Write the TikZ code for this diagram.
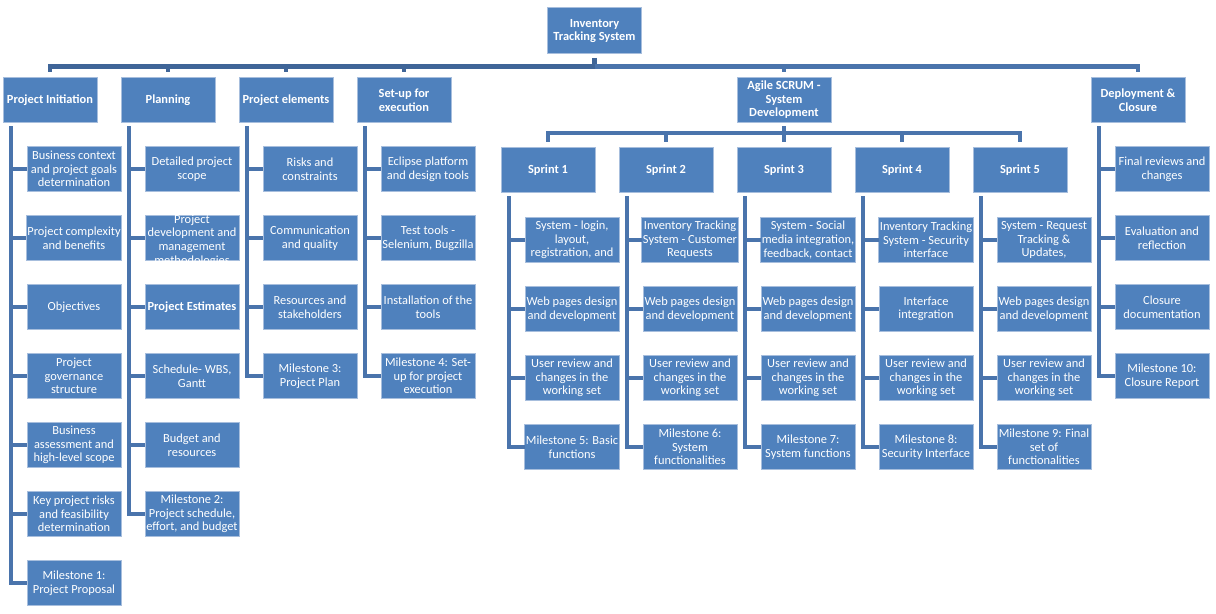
\documentclass[tikz,border=0pt]{standalone}
\usepackage{fontspec}
\setmainfont{Carlito}
\usepackage{tikz}
\usetikzlibrary{positioning}
\definecolor{boxblue}{HTML}{4F81BD}
\definecolor{boxedge}{HTML}{A7BEDD}
\definecolor{linkblue}{HTML}{4A74AC}
\definecolor{busblue}{HTML}{3F6598}
\tikzset{
    every picture/.style={line join=miter},
    wbsbox/.style={draw=boxedge,fill=boxblue,line width=0.5pt,text=white,
      minimum width=47pt,minimum height=22.5pt,inner sep=0.5pt,outer sep=0pt,
      align=center,font=\fontsize{6.2}{6.8}\selectfont},
    headbox/.style={wbsbox,font=\fontsize{6.2}{6.8}\selectfont\bfseries},
    busline/.style={draw=busblue,line width=2.2pt},
    sprintline/.style={draw=linkblue,line width=2pt},
    barline/.style={draw=linkblue,line width=2pt}
}

\begin{document}
\begin{tikzpicture}
    \useasboundingbox (0,0) rectangle (608pt,-307pt);
    % top level
    \node[headbox,minimum height=23pt] (root) at (297.25pt,-15.5pt) {Inventory\\Tracking System};
    \node[headbox] (init) at (25pt,-50pt) {Project Initiation};
    \node[headbox,right=12pt of init] (plan) {Planning};
    \node[headbox,right=12pt of plan] (elem) {Project elements};
    \node[headbox,right=12pt of elem] (setup) {Set-up for\\execution};
    \node[headbox,right=143pt of setup] (agile) {Agile SCRUM -\\System\\Development};
    \node[headbox,right=130pt of agile] (deploy) {Deployment \&\\Closure};
    \coordinate (bus) at ([yshift=-6.25pt]root.south);
    \draw[busline] ([yshift=-2pt]root.south) -- (bus) -| ([yshift=2.5pt]init.north);
    \draw[busline] (bus) -| ([yshift=2.5pt]plan.north);
    \draw[busline] (bus) -| ([yshift=2.5pt]elem.north);
    \draw[busline] (bus) -| ([yshift=2.5pt]setup.north);
    \draw[sprintline,line width=2.2pt] (bus) -| ([yshift=2.5pt]agile.north);
    \draw[sprintline,line width=2.2pt] (bus) -| ([yshift=2.5pt]deploy.north);

    % project initiation
    \node[wbsbox,below=12pt of init,xshift=12pt] (init1) {Business context\\and project goals\\determination};
    \node[wbsbox,below=12pt of init1] (init2) {Project complexity\\and benefits};
    \node[wbsbox,below=12pt of init2] (init3) {Objectives};
    \node[wbsbox,below=12pt of init3] (init4) {Project\\governance\\structure};
    \node[wbsbox,below=12pt of init4] (init5) {Business\\assessment and\\high-level scope};
    \node[wbsbox,below=12pt of init5] (init6) {Key project risks\\and feasibility\\determination};
    \node[wbsbox,below=12pt of init6] (init7) {Milestone 1:\\Project Proposal};
    \draw[barline] (init.south west) ++(4pt,-2pt) |- (init1.west);
    \draw[barline] (init.south west) ++(4pt,-2pt) |- (init2.west);
    \draw[barline] (init.south west) ++(4pt,-2pt) |- (init3.west);
    \draw[barline] (init.south west) ++(4pt,-2pt) |- (init4.west);
    \draw[barline] (init.south west) ++(4pt,-2pt) |- (init5.west);
    \draw[barline] (init.south west) ++(4pt,-2pt) |- (init6.west);
    \draw[barline] (init.south west) ++(4pt,-2pt) |- (init7.west);

    % planning
    \node[wbsbox,below=12pt of plan,xshift=12pt] (plan1) {Detailed project\\scope};
    \node[wbsbox,below=12pt of plan1] (plan2) {\smash{\raisebox{-3pt}{\begin{tabular}{@{}c@{}}Project\\development and\\management\\methodologies\end{tabular}}}};
    \node[headbox,below=12pt of plan2] (plan3) {Project Estimates};
    \node[wbsbox,below=12pt of plan3] (plan4) {Schedule- WBS,\\Gantt};
    \node[wbsbox,below=12pt of plan4] (plan5) {Budget and\\resources};
    \node[wbsbox,below=12pt of plan5] (plan6) {Milestone 2:\\Project schedule,\\effort, and budget};
    \draw[barline] (plan.south west) ++(4pt,-2pt) |- (plan1.west);
    \draw[barline] (plan.south west) ++(4pt,-2pt) |- (plan2.west);
    \draw[barline] (plan.south west) ++(4pt,-2pt) |- (plan3.west);
    \draw[barline] (plan.south west) ++(4pt,-2pt) |- (plan4.west);
    \draw[barline] (plan.south west) ++(4pt,-2pt) |- (plan5.west);
    \draw[barline] (plan.south west) ++(4pt,-2pt) |- (plan6.west);

    % project elements
    \node[wbsbox,below=12pt of elem,xshift=12pt] (elem1) {Risks and\\constraints};
    \node[wbsbox,below=12pt of elem1] (elem2) {Communication\\and quality};
    \node[wbsbox,below=12pt of elem2] (elem3) {Resources and\\stakeholders};
    \node[wbsbox,below=12pt of elem3] (elem4) {Milestone 3:\\Project Plan};
    \draw[barline] (elem.south west) ++(4pt,-2pt) |- (elem1.west);
    \draw[barline] (elem.south west) ++(4pt,-2pt) |- (elem2.west);
    \draw[barline] (elem.south west) ++(4pt,-2pt) |- (elem3.west);
    \draw[barline] (elem.south west) ++(4pt,-2pt) |- (elem4.west);

    % set-up
    \node[wbsbox,below=12pt of setup,xshift=12pt] (setup1) {Eclipse platform\\and design tools};
    \node[wbsbox,below=12pt of setup1] (setup2) {Test tools -\\Selenium, Bugzilla};
    \node[wbsbox,below=12pt of setup2] (setup3) {Installation of the\\tools};
    \node[wbsbox,below=12pt of setup3] (setup4) {Milestone 4: Set-\\up for project\\execution};
    \draw[barline] (setup.south west) ++(4pt,-2pt) |- (setup1.west);
    \draw[barline] (setup.south west) ++(4pt,-2pt) |- (setup2.west);
    \draw[barline] (setup.south west) ++(4pt,-2pt) |- (setup3.west);
    \draw[barline] (setup.south west) ++(4pt,-2pt) |- (setup4.west);

    % sprints
    \node[headbox,below=12.5pt of agile] (sprint3) {Sprint 3};
    \node[headbox,left=12pt of sprint3] (sprint2) {Sprint 2};
    \node[headbox,left=12pt of sprint2] (sprint1) {Sprint 1};
    \node[headbox,right=12pt of sprint3] (sprint4) {Sprint 4};
    \node[headbox,right=12pt of sprint4] (sprint5) {Sprint 5};
    \coordinate (sprintbus) at ([yshift=-5.5pt]agile.south);
    \draw[sprintline] ([yshift=-2pt]agile.south) -- (sprintbus) -| ([yshift=2.5pt]sprint1.north);
    \draw[sprintline] (sprintbus) -| ([yshift=2.5pt]sprint2.north);
    \draw[sprintline] (sprintbus) -| ([yshift=2.5pt]sprint3.north);
    \draw[sprintline] (sprintbus) -| ([yshift=2.5pt]sprint4.north);
    \draw[sprintline] (sprintbus) -| ([yshift=2.5pt]sprint5.north);

    \node[wbsbox,below=12.5pt of sprint1,xshift=12pt] (s1a) {System - login,\\layout,\\registration, and};
    \node[wbsbox,below=12pt of s1a] (s1b) {Web pages design\\and development};
    \node[wbsbox,below=12pt of s1b] (s1c) {User review and\\changes in the\\working set};
    \node[wbsbox,below=12pt of s1c] (s1d) {Milestone 5: Basic\\functions};
    \draw[barline] (sprint1.south west) ++(4pt,-2pt) |- (s1a.west);
    \draw[barline] (sprint1.south west) ++(4pt,-2pt) |- (s1b.west);
    \draw[barline] (sprint1.south west) ++(4pt,-2pt) |- (s1c.west);
    \draw[barline] (sprint1.south west) ++(4pt,-2pt) |- (s1d.west);

    \node[wbsbox,below=12.5pt of sprint2,xshift=12pt] (s2a) {Inventory Tracking\\System - Customer\\Requests};
    \node[wbsbox,below=12pt of s2a] (s2b) {Web pages design\\and development};
    \node[wbsbox,below=12pt of s2b] (s2c) {User review and\\changes in the\\working set};
    \node[wbsbox,below=12pt of s2c] (s2d) {Milestone 6:\\System\\functionalities};
    \draw[barline] (sprint2.south west) ++(4pt,-2pt) |- (s2a.west);
    \draw[barline] (sprint2.south west) ++(4pt,-2pt) |- (s2b.west);
    \draw[barline] (sprint2.south west) ++(4pt,-2pt) |- (s2c.west);
    \draw[barline] (sprint2.south west) ++(4pt,-2pt) |- (s2d.west);

    \node[wbsbox,below=12.5pt of sprint3,xshift=12pt] (s3a) {System - Social\\media integration,\\feedback, contact};
    \node[wbsbox,below=12pt of s3a] (s3b) {Web pages design\\and development};
    \node[wbsbox,below=12pt of s3b] (s3c) {User review and\\changes in the\\working set};
    \node[wbsbox,below=12pt of s3c] (s3d) {Milestone 7:\\System functions};
    \draw[barline] (sprint3.south west) ++(4pt,-2pt) |- (s3a.west);
    \draw[barline] (sprint3.south west) ++(4pt,-2pt) |- (s3b.west);
    \draw[barline] (sprint3.south west) ++(4pt,-2pt) |- (s3c.west);
    \draw[barline] (sprint3.south west) ++(4pt,-2pt) |- (s3d.west);

    \node[wbsbox,below=12.5pt of sprint4,xshift=12pt] (s4a) {Inventory Tracking\\System - Security\\interface};
    \node[wbsbox,below=12pt of s4a] (s4b) {Interface\\integration};
    \node[wbsbox,below=12pt of s4b] (s4c) {User review and\\changes in the\\working set};
    \node[wbsbox,below=12pt of s4c] (s4d) {Milestone 8:\\Security Interface};
    \draw[barline] (sprint4.south west) ++(4pt,-2pt) |- (s4a.west);
    \draw[barline] (sprint4.south west) ++(4pt,-2pt) |- (s4b.west);
    \draw[barline] (sprint4.south west) ++(4pt,-2pt) |- (s4c.west);
    \draw[barline] (sprint4.south west) ++(4pt,-2pt) |- (s4d.west);

    \node[wbsbox,below=12.5pt of sprint5,xshift=12pt] (s5a) {System - Request\\Tracking \&\\Updates,};
    \node[wbsbox,below=12pt of s5a] (s5b) {Web pages design\\and development};
    \node[wbsbox,below=12pt of s5b] (s5c) {User review and\\changes in the\\working set};
    \node[wbsbox,below=12pt of s5c] (s5d) {Milestone 9: Final\\set of\\functionalities};
    \draw[barline] (sprint5.south west) ++(4pt,-2pt) |- (s5a.west);
    \draw[barline] (sprint5.south west) ++(4pt,-2pt) |- (s5b.west);
    \draw[barline] (sprint5.south west) ++(4pt,-2pt) |- (s5c.west);
    \draw[barline] (sprint5.south west) ++(4pt,-2pt) |- (s5d.west);

    % deployment
    \node[wbsbox,below=12pt of deploy,xshift=12pt] (deploy1) {Final reviews and\\changes};
    \node[wbsbox,below=12pt of deploy1] (deploy2) {Evaluation and\\reflection};
    \node[wbsbox,below=12pt of deploy2] (deploy3) {Closure\\documentation};
    \node[wbsbox,below=12pt of deploy3] (deploy4) {Milestone 10:\\Closure Report};
    \draw[barline] (deploy.south west) ++(4pt,-2pt) |- (deploy1.west);
    \draw[barline] (deploy.south west) ++(4pt,-2pt) |- (deploy2.west);
    \draw[barline] (deploy.south west) ++(4pt,-2pt) |- (deploy3.west);
    \draw[barline] (deploy.south west) ++(4pt,-2pt) |- (deploy4.west);
\end{tikzpicture}
\end{document}
